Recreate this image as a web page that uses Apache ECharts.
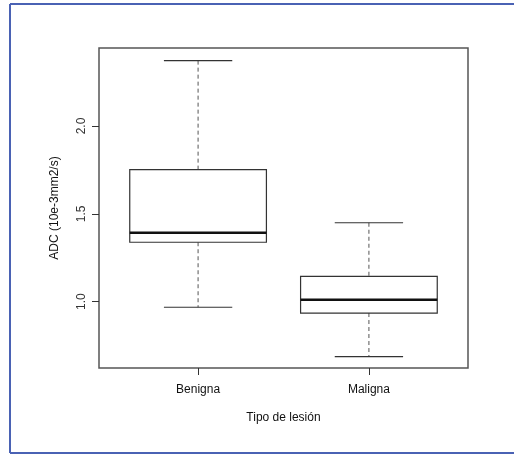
<!DOCTYPE html>
<html>
<head>
<meta charset="utf-8">
<script src="https://cdn.jsdelivr.net/npm/echarts@6/dist/echarts.min.js"></script>
<style>
html, body { margin: 0; padding: 0; background: #fff; }
#chart { width: 514px; height: 454px; }
</style>
</head>
<body>
<div id="chart"></div>
<script>
// datos de la figura
var categories = ['Benigna', 'Maligna'];
var positions = [1, 2];
var whiskerLow = [0.968, 0.687];
var q1 = [1.338, 0.935];
var median = [1.392, 1.011];
var q3 = [1.752, 1.144];
var whiskerHigh = [2.372, 1.449];
var yTicks = [1.0, 1.5, 2.0];

var boxData = [];
for (var i = 0; i < categories.length; i++) {
    boxData.push([positions[i], whiskerLow[i], q1[i], median[i], q3[i], whiskerHigh[i]]);
}

function renderBox(params, api) {
    var x = api.value(0);
    var half = api.size([0.4, 0])[0];
    var capHalf = api.size([0.2, 0])[0];
    var pLow = api.coord([x, api.value(1)]);
    var pQ1 = api.coord([x, api.value(2)]);
    var pMed = api.coord([x, api.value(3)]);
    var pQ3 = api.coord([x, api.value(4)]);
    var pHigh = api.coord([x, api.value(5)]);
    var cx = pMed[0];
    var lineStyle = { stroke: '#333', lineWidth: 1.2, fill: null };
    var dashStyle = { stroke: '#555', lineWidth: 1, lineDash: [4, 3] };
    return {
        type: 'group',
        children: [
            { type: 'line', shape: { x1: cx, y1: pHigh[1], x2: cx, y2: pQ3[1] }, style: dashStyle },
            { type: 'line', shape: { x1: cx, y1: pQ1[1], x2: cx, y2: pLow[1] }, style: dashStyle },
            { type: 'line', shape: { x1: cx - capHalf, y1: pHigh[1], x2: cx + capHalf, y2: pHigh[1] }, style: lineStyle },
            { type: 'line', shape: { x1: cx - capHalf, y1: pLow[1], x2: cx + capHalf, y2: pLow[1] }, style: lineStyle },
            { type: 'rect', shape: { x: cx - half, y: pQ3[1], width: half * 2, height: pQ1[1] - pQ3[1] }, style: { stroke: '#333', lineWidth: 1.2, fill: '#fff' } },
            { type: 'line', shape: { x1: cx - half, y1: pMed[1], x2: cx + half, y2: pMed[1] }, style: { stroke: '#111', lineWidth: 2.5 } }
        ]
    };
}

var myChart = echarts.init(document.getElementById('chart'), null, { renderer: 'canvas' });

var option = {
    backgroundColor: '#fff',
    textStyle: { fontFamily: 'Liberation Sans, Arial, sans-serif' },
    animation: false,
    graphic: [
        { type: 'line', shape: { x1: 10, y1: 4, x2: 514, y2: 4 }, style: { stroke: '#4a62b4', lineWidth: 2 } },
        { type: 'line', shape: { x1: 10, y1: 4, x2: 10, y2: 453 }, style: { stroke: '#4a62b4', lineWidth: 2 } },
        { type: 'line', shape: { x1: 10, y1: 453, x2: 514, y2: 453 }, style: { stroke: '#4a62b4', lineWidth: 2 } }
    ],
    grid: {
        left: 99,
        right: 46,
        top: 48,
        bottom: 86,
        show: true,
        borderColor: '#555',
        borderWidth: 1.5,
        backgroundColor: '#fff'
    },
    xAxis: {
        type: 'value',
        min: 0.42,
        max: 2.58,
        splitLine: { show: false },
        axisLine: { show: false },
        axisTick: { show: true, customValues: positions, length: 7, lineStyle: { color: '#333' } },
        axisLabel: {
            customValues: positions,
            margin: 16,
            color: '#111',
            fontSize: 12,
            formatter: function (v) { return categories[Math.round(v) - 1]; }
        },
        name: 'Tipo de lesión',
        nameLocation: 'middle',
        nameGap: 44,
        nameTextStyle: { color: '#111', fontSize: 12 }
    },
    yAxis: {
        type: 'value',
        min: 0.622,
        max: 2.444,
        splitLine: { show: false },
        axisLine: { show: false },
        axisTick: { show: true, customValues: yTicks, length: 7, lineStyle: { color: '#333' } },
        axisLabel: {
            customValues: yTicks,
            rotate: 90,
            margin: 11,
            color: '#333',
            fontSize: 12,
            formatter: function (v) { return v.toFixed(1); }
        },
        name: 'ADC (10e-3mm2/s)',
        nameLocation: 'middle',
        nameRotate: 90,
        nameGap: 38,
        nameTextStyle: { color: '#111', fontSize: 12 }
    },
    series: [{
        type: 'custom',
        renderItem: renderBox,
        data: boxData,
        encode: { x: 0, y: [1, 2, 3, 4, 5] },
        clip: false
    }]
};

myChart.setOption(option);
window.addEventListener('resize', myChart.resize);
</script>
</body>
</html>
